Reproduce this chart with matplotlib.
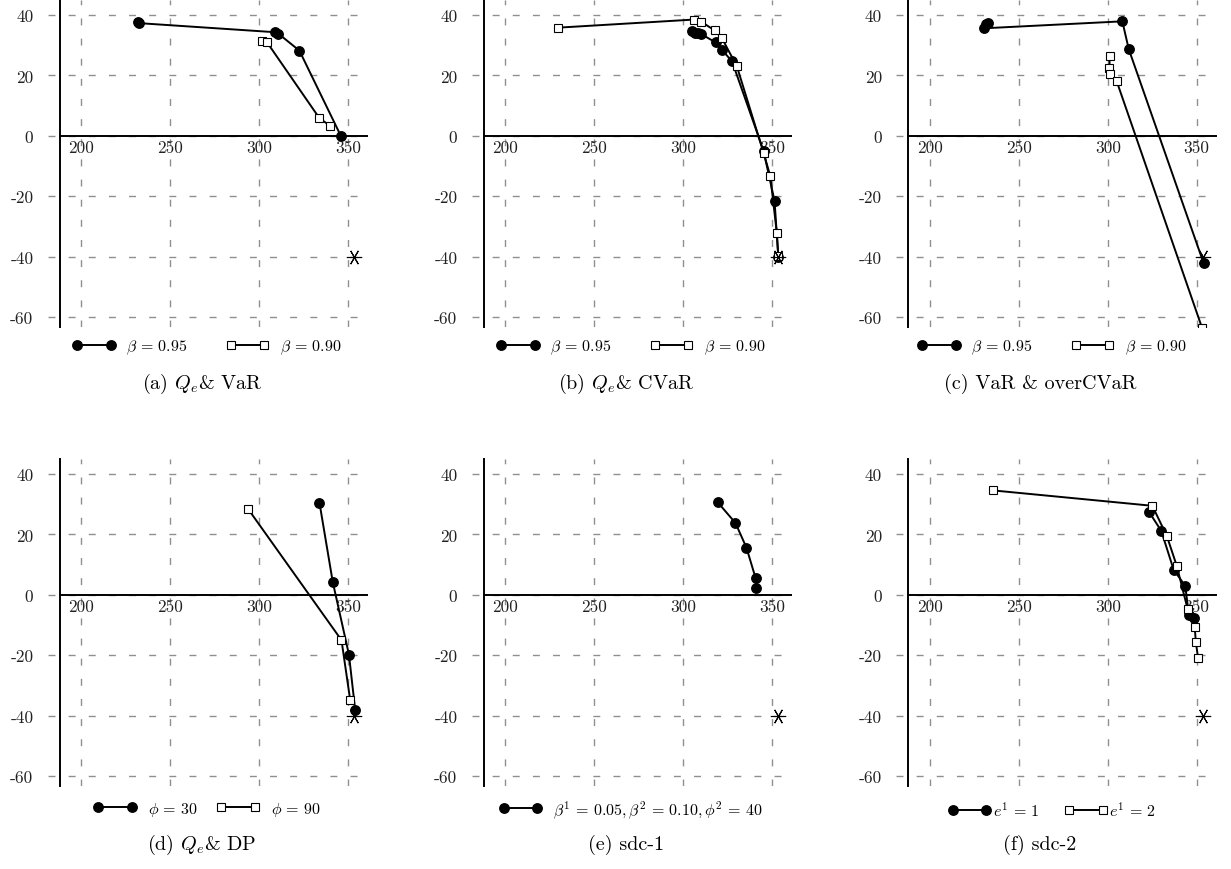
import matplotlib
matplotlib.use('Agg')
import matplotlib.pyplot as plt
from matplotlib.lines import Line2D

plt.rcParams['font.family'] = ['cmr10', 'DejaVu Serif']
plt.rcParams['mathtext.fontset'] = 'cm'
plt.rcParams['axes.unicode_minus'] = False
plt.rcParams['lines.scale_dashes'] = False

# ideal point (the asterisk) shared by all panels
ideal_x = [353.6]
ideal_y = [-40.0]

# (a) Qe & VaR
a_circ_x = [232.0, 232.5, 309.0, 310.9, 322.7, 346.0]
a_circ_y = [37.8, 37.3, 34.3, 33.8, 28.2, 0.0]
a_sq_x = [301.5, 304.3, 334.0, 340.0]
a_sq_y = [31.3, 31.1, 5.8, 3.3]

# (b) Qe & CVaR
b_circ_x = [305.1, 306.5, 308.2, 310.2, 318.3, 322.0, 327.6, 345.3, 351.5, 353.6]
b_circ_y = [34.6, 34.2, 33.9, 33.7, 30.9, 28.4, 24.6, -5.0, -21.6, -40.0]
b_sq_x = [229.5, 306.4, 310.2, 317.7, 321.8, 330.3, 345.3, 349.1, 352.8, 353.6]
b_sq_y = [35.8, 38.5, 37.8, 34.9, 32.4, 23.0, -5.6, -13.4, -32.3, -39.9]

# (c) VaR & overCVaR
c_circ_x = [232.6, 231.7, 230.4, 308.2, 311.8, 353.9]
c_circ_y = [37.3, 36.9, 35.6, 37.9, 28.7, -42.1]
c_sq_x = [301.1, 300.9, 301.3, 305.0, 353.0]
c_sq_y = [26.3, 22.5, 20.4, 18.1, -63.5]

# (d) Qe & DP
d_circ_x = [334.0, 341.5, 350.6, 354.1]
d_circ_y = [30.5, 4.2, -19.8, -38.1]
d_sq_x = [294.0, 346.4, 351.3]
d_sq_y = [28.3, -15.0, -34.9]

# (e) sdc-1
e_circ_x = [319.6, 329.5, 335.7, 340.8, 341.2]
e_circ_y = [30.6, 23.8, 15.6, 5.6, 2.2]

# (f) sdc-2
f_circ_x = [323.2, 330.1, 337.1, 343.6, 345.7, 348.3]
f_circ_y = [27.5, 21.2, 8.3, 3.0, -6.7, -7.5]
f_sq_x = [235.4, 325.1, 333.3, 338.9, 344.9, 348.9, 349.6, 350.8]
f_sq_y = [34.6, 29.5, 19.4, 9.5, -4.6, -10.5, -15.7, -20.8]

x_ticks = [200, 250, 300, 350]
y_ticks = [-60, -40, -20, 0, 20, 40]
y_tick_labels = ['-60', '-40', '-20', '0', '20', '40']

labels_beta = [r'$\beta \,=\, 0.95$', r'$\beta \,=\, 0.90$']
labels_phi = [r'$\phi \,=\, 30$', r'$\phi \,=\, 90$']
labels_sdc1 = [r'$\beta^1 \,=\, 0.05, \beta^2 \,=\, 0.10, \phi^2 \,=\, 40$']
labels_sdc2 = [r'$e^1 \,=\, 1$', r'$e^1 \,=\, 2$']

captions = [r'(a) $Q_e$& VaR', r'(b) $Q_e$& CVaR', '(c) VaR & overCVaR',
            r'(d) $Q_e$& DP', '(e) sdc-1', '(f) sdc-2']

panels = [
    (a_circ_x, a_circ_y, a_sq_x, a_sq_y, labels_beta),
    (b_circ_x, b_circ_y, b_sq_x, b_sq_y, labels_beta),
    (c_circ_x, c_circ_y, c_sq_x, c_sq_y, labels_beta),
    (d_circ_x, d_circ_y, d_sq_x, d_sq_y, labels_phi),
    (e_circ_x, e_circ_y, None, None, labels_sdc1),
    (f_circ_x, f_circ_y, f_sq_x, f_sq_y, labels_sdc2),
]

W, H = 1231, 870
fig = plt.figure(figsize=(W / 100, H / 100), dpi=100)

axis_x = 187.8
x_lim = (181.0, 360.7)
y_lim = (-63.3, 45.0)

col_left = [47.7, 471.7, 896.4]     # px
ax_w = 319.2
row_top = [0.9, 460.0]
ax_h = 327.0
legend_y = [348, 810]
caption_y = [384, 845]
col_center = [207, 631, 1052]
caption_center = [202, 626, 1040]

circ_style = dict(color='black', lw=1.4, marker='o', ms=6.8, mfc='black', mec='black')
sq_style = dict(color='black', lw=1.4, marker='s', ms=6.2, mfc='white', mec='black', mew=0.8)

for i, (cx, cy, sx, sy, labels) in enumerate(panels):
    r, c = divmod(i, 3)
    ax = fig.add_axes([col_left[c] / W, 1 - (row_top[r] + ax_h) / H, ax_w / W, ax_h / H])
    ax.set_xlim(*x_lim)
    ax.set_ylim(*y_lim)

    ax.plot(cx, cy, zorder=3, **circ_style)
    if sx is not None:
        ax.plot(sx, sy, zorder=4, **sq_style)
    ax.plot(ideal_x, ideal_y, ls='none', marker=(6, 2, 30), ms=11, mew=0.8,
            color='black', zorder=5)

    ax.set_xticks(x_ticks)
    ax.set_yticks(y_ticks)
    ax.set_yticklabels(y_tick_labels)
    ax.grid(True, color='#8f8f8f', lw=1.0, linestyle=(0, (5, 9.5)))
    ax.set_axisbelow(True)
    ax.tick_params(length=0, labelsize=12.5, colors='#222222')
    ax.tick_params(axis='x', pad=3)
    ax.tick_params(axis='y', pad=19)

    for side in ['top', 'right']:
        ax.spines[side].set_visible(False)
    ax.spines['left'].set_position(('data', axis_x))
    ax.spines['bottom'].set_position(('data', 0))
    ax.spines['bottom'].set_bounds(axis_x, x_lim[1])
    ax.spines['left'].set_linewidth(1.4)
    ax.spines['bottom'].set_linewidth(1.4)
    ax.patch.set_visible(False)

    handles = [Line2D([], [], **circ_style)]
    if sx is not None:
        handles.append(Line2D([], [], **sq_style))
    spacing = 2.4
    textpad = 0.7
    if i == 3:
        spacing = 1.2
    if i == 5:
        textpad = 0.1
        spacing = 1.6
    ax.legend(handles, labels, loc='center', ncol=len(handles), frameon=False,
              bbox_to_anchor=(col_center[c] / W, 1 - legend_y[r] / H),
              bbox_transform=fig.transFigure, fontsize=11.5, numpoints=2,
              handlelength=2.7, handletextpad=textpad, columnspacing=spacing)

    fig.text(caption_center[c] / W, 1 - caption_y[r] / H, captions[i],
             ha='center', va='center', fontsize=14.5)

fig.savefig('out.png', dpi=100)
